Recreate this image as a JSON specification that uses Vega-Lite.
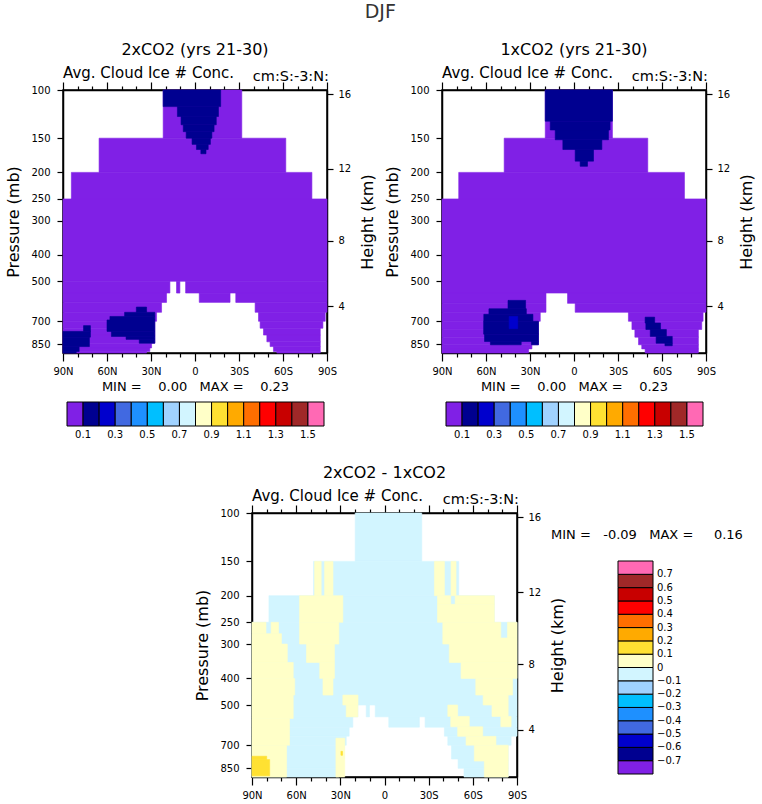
{
  "$schema": "https://vega.github.io/schema/vega-lite/v6.json",
  "autosize": {"type": "pad"},
  "padding": {"left": 5, "top": 3, "right": 4, "bottom": 4},
  "background": "white",
  "config": {
    "font": "DejaVu Sans",
    "view": {"stroke": "black", "strokeWidth": 1.5},
    "axis": {"domainColor": "black", "domainWidth": 1.5, "tickColor": "black", "tickWidth": 1.2, "labelColor": "black", "titleColor": "black", "labelFont": "DejaVu Sans", "titleFont": "DejaVu Sans", "labelFontSize": 10, "titleFontSize": 16, "titleFontWeight": "normal", "grid": false, "labelOverlap": false, "labelFlush": false},
    "legend": {"labelFont": "DejaVu Sans", "labelColor": "black", "labelFontSize": 10, "titleFont": "DejaVu Sans", "titleColor": "black", "titleFontWeight": "normal"},
    "title": {"font": "DejaVu Sans", "fontWeight": "normal", "color": "black"}
  },
  "title": {"text": "DJF", "fontSize": 19, "fontWeight": "normal", "color": "#333333", "anchor": "middle", "frame": "bounds", "offset": 19},
  "resolve": {"scale": {"fill": "independent", "stroke": "independent"}, "legend": {"fill": "independent", "stroke": "independent"}},
  "datasets": {
    "p1": [
      {"lat1": 21.7, "lat2": -31.9, "p1": 100, "p2": 150, "v": 0.05},
      {"lat1": 65.4, "lat2": -61.9, "p1": 150, "p2": 200, "v": 0.05},
      {"lat1": 84.3, "lat2": -79.7, "p1": 200, "p2": 250, "v": 0.05},
      {"lat1": 90, "lat2": -90, "p1": 250, "p2": 500, "v": 0.05},
      {"lat1": 90, "lat2": 17.1, "p1": 500, "p2": 552, "v": 0.05},
      {"lat1": 12.6, "lat2": 10.3, "p1": 500, "p2": 552, "v": 0.05},
      {"lat1": 6.4, "lat2": -90, "p1": 500, "p2": 552, "v": 0.05},
      {"lat1": 90, "lat2": 19.4, "p1": 552, "p2": 597, "v": 0.05},
      {"lat1": -2.9, "lat2": -23.9, "p1": 552, "p2": 597, "v": 0.05},
      {"lat1": -27.8, "lat2": -90, "p1": 552, "p2": 597, "v": 0.05},
      {"lat1": 90, "lat2": 22.8, "p1": 597, "p2": 649, "v": 0.05},
      {"lat1": -41, "lat2": -90, "p1": 597, "p2": 649, "v": 0.05},
      {"lat1": 90, "lat2": 26.2, "p1": 649, "p2": 700, "v": 0.05},
      {"lat1": -43.3, "lat2": -88.8, "p1": 649, "p2": 700, "v": 0.05},
      {"lat1": 90, "lat2": 27.4, "p1": 700, "p2": 742, "v": 0.05},
      {"lat1": -44.4, "lat2": -87.2, "p1": 700, "p2": 742, "v": 0.05},
      {"lat1": 90, "lat2": 27.4, "p1": 742, "p2": 786, "v": 0.05},
      {"lat1": -46.7, "lat2": -85.4, "p1": 742, "p2": 786, "v": 0.05},
      {"lat1": 90, "lat2": 27.4, "p1": 786, "p2": 842, "v": 0.05},
      {"lat1": -49, "lat2": -85.4, "p1": 786, "p2": 832, "v": 0.05},
      {"lat1": -51.2, "lat2": -85.4, "p1": 832, "p2": 866, "v": 0.05},
      {"lat1": 90, "lat2": 29.6, "p1": 842, "p2": 876, "v": 0.05},
      {"lat1": 90, "lat2": 30.8, "p1": 876, "p2": 903, "v": 0.05},
      {"lat1": -53.5, "lat2": -85.4, "p1": 866, "p2": 903, "v": 0.05},
      {"lat1": 90, "lat2": 33, "p1": 903, "p2": 914, "v": 0.05},
      {"lat1": -55.8, "lat2": -85.4, "p1": 903, "p2": 914, "v": 0.05},
      {"lat1": 21.7, "lat2": -17.5, "p1": 100, "p2": 115, "v": 0.15},
      {"lat1": 12, "lat2": -16, "p1": 115, "p2": 125, "v": 0.15},
      {"lat1": 9.5, "lat2": -14.5, "p1": 125, "p2": 134, "v": 0.15},
      {"lat1": 8, "lat2": -13, "p1": 134, "p2": 142, "v": 0.15},
      {"lat1": 6, "lat2": -11.5, "p1": 142, "p2": 150, "v": 0.15},
      {"lat1": 2, "lat2": -10.5, "p1": 150, "p2": 158, "v": 0.15},
      {"lat1": -1, "lat2": -9, "p1": 158, "p2": 165, "v": 0.15},
      {"lat1": -4, "lat2": -7.5, "p1": 165, "p2": 171, "v": 0.15},
      {"lat1": 76, "lat2": 71.3, "p1": 726, "p2": 762, "v": 0.15},
      {"lat1": 90, "lat2": 71.3, "p1": 762, "p2": 800, "v": 0.15},
      {"lat1": 90, "lat2": 72, "p1": 800, "p2": 866, "v": 0.15},
      {"lat1": 90, "lat2": 79, "p1": 866, "p2": 903, "v": 0.15},
      {"lat1": 90, "lat2": 81, "p1": 903, "p2": 914, "v": 0.15},
      {"lat1": 40, "lat2": 33, "p1": 621, "p2": 649, "v": 0.15},
      {"lat1": 48, "lat2": 27.4, "p1": 649, "p2": 672, "v": 0.15},
      {"lat1": 58, "lat2": 27.4, "p1": 672, "p2": 692, "v": 0.15},
      {"lat1": 60, "lat2": 27.4, "p1": 692, "p2": 762, "v": 0.15},
      {"lat1": 57, "lat2": 27.4, "p1": 762, "p2": 795, "v": 0.15},
      {"lat1": 47, "lat2": 27.4, "p1": 795, "p2": 815, "v": 0.15},
      {"lat1": 38, "lat2": 27.4, "p1": 815, "p2": 842, "v": 0.15}
    ],
    "p2": [
      {"lat1": 19.6, "lat2": -26.2, "p1": 100, "p2": 150, "v": 0.05},
      {"lat1": 47.6, "lat2": -50.3, "p1": 150, "p2": 200, "v": 0.05},
      {"lat1": 78.6, "lat2": -75.3, "p1": 200, "p2": 250, "v": 0.05},
      {"lat1": 90, "lat2": -90, "p1": 250, "p2": 552, "v": 0.05},
      {"lat1": 90, "lat2": 19.1, "p1": 552, "p2": 602, "v": 0.05},
      {"lat1": 4.4, "lat2": -90, "p1": 552, "p2": 602, "v": 0.05},
      {"lat1": 90, "lat2": 19.1, "p1": 602, "p2": 649, "v": 0.05},
      {"lat1": -0.8, "lat2": -90, "p1": 602, "p2": 649, "v": 0.05},
      {"lat1": 90, "lat2": 23, "p1": 649, "p2": 700, "v": 0.05},
      {"lat1": -37.1, "lat2": -88, "p1": 649, "p2": 700, "v": 0.05},
      {"lat1": 90, "lat2": 24.2, "p1": 700, "p2": 750, "v": 0.05},
      {"lat1": -39.5, "lat2": -87.1, "p1": 700, "p2": 750, "v": 0.05},
      {"lat1": 90, "lat2": 24.2, "p1": 750, "p2": 800, "v": 0.05},
      {"lat1": -41.5, "lat2": -84.8, "p1": 750, "p2": 800, "v": 0.05},
      {"lat1": 90, "lat2": 24.2, "p1": 800, "p2": 853, "v": 0.05},
      {"lat1": -44, "lat2": -84.8, "p1": 800, "p2": 853, "v": 0.05},
      {"lat1": 90, "lat2": 28.7, "p1": 853, "p2": 883, "v": 0.05},
      {"lat1": -46.2, "lat2": -84.8, "p1": 853, "p2": 883, "v": 0.05},
      {"lat1": 90, "lat2": 30.9, "p1": 883, "p2": 914, "v": 0.05},
      {"lat1": -48.5, "lat2": -84.8, "p1": 883, "p2": 914, "v": 0.05},
      {"lat1": 19.6, "lat2": -26.2, "p1": 100, "p2": 130, "v": 0.15},
      {"lat1": 16.2, "lat2": -24.6, "p1": 130, "p2": 140, "v": 0.15},
      {"lat1": 12.8, "lat2": -23.5, "p1": 140, "p2": 152, "v": 0.15},
      {"lat1": 7.6, "lat2": -19, "p1": 152, "p2": 165, "v": 0.15},
      {"lat1": -0.8, "lat2": -13.3, "p1": 165, "p2": 182, "v": 0.15},
      {"lat1": -4.2, "lat2": -9.2, "p1": 182, "p2": 190, "v": 0.15},
      {"lat1": 45, "lat2": 33, "p1": 587, "p2": 630, "v": 0.15},
      {"lat1": 58, "lat2": 32.5, "p1": 630, "p2": 660, "v": 0.15},
      {"lat1": 61.5, "lat2": 28, "p1": 660, "p2": 700, "v": 0.15},
      {"lat1": 61.6, "lat2": 24.2, "p1": 700, "p2": 780, "v": 0.15},
      {"lat1": 61, "lat2": 24.2, "p1": 780, "p2": 830, "v": 0.15},
      {"lat1": 57, "lat2": 36, "p1": 830, "p2": 853, "v": 0.15},
      {"lat1": 29, "lat2": 24.2, "p1": 830, "p2": 853, "v": 0.15},
      {"lat1": 44.2, "lat2": 38.4, "p1": 672, "p2": 745, "v": 0.25},
      {"lat1": -48.5, "lat2": -55, "p1": 676, "p2": 710, "v": 0.15},
      {"lat1": -49, "lat2": -59, "p1": 710, "p2": 750, "v": 0.15},
      {"lat1": -52, "lat2": -63, "p1": 750, "p2": 795, "v": 0.15},
      {"lat1": -56, "lat2": -67, "p1": 795, "p2": 842, "v": 0.15},
      {"lat1": -62, "lat2": -67, "p1": 842, "p2": 860, "v": 0.15}
    ],
    "p3": [
      {"lat1": 19.9, "lat2": -25.3, "p1": 100, "p2": 150, "v": -0.05},
      {"lat1": 48.2, "lat2": -50.4, "p1": 150, "p2": 200, "v": -0.05},
      {"lat1": 78.5, "lat2": -74.6, "p1": 200, "p2": 250, "v": -0.05},
      {"lat1": 90, "lat2": -90, "p1": 250, "p2": 500, "v": -0.05},
      {"lat1": 90, "lat2": 18.1, "p1": 500, "p2": 552, "v": -0.05},
      {"lat1": 12.4, "lat2": 10.2, "p1": 500, "p2": 552, "v": -0.05},
      {"lat1": 6.3, "lat2": -90, "p1": 500, "p2": 552, "v": -0.05},
      {"lat1": 90, "lat2": 21.5, "p1": 552, "p2": 602, "v": -0.05},
      {"lat1": -2.9, "lat2": -23.7, "p1": 552, "p2": 602, "v": -0.05},
      {"lat1": -27.6, "lat2": -90, "p1": 552, "p2": 602, "v": -0.05},
      {"lat1": 90, "lat2": 24, "p1": 602, "p2": 649, "v": -0.05},
      {"lat1": -40.7, "lat2": -90, "p1": 602, "p2": 649, "v": -0.05},
      {"lat1": 90, "lat2": 26, "p1": 649, "p2": 700, "v": -0.05},
      {"lat1": -43, "lat2": -86, "p1": 649, "p2": 700, "v": -0.05},
      {"lat1": 90, "lat2": 27.4, "p1": 700, "p2": 786, "v": -0.05},
      {"lat1": -45.5, "lat2": -84, "p1": 700, "p2": 786, "v": -0.05},
      {"lat1": 90, "lat2": 28.5, "p1": 786, "p2": 850, "v": -0.05},
      {"lat1": -50, "lat2": -84, "p1": 786, "p2": 850, "v": -0.05},
      {"lat1": 90, "lat2": 31, "p1": 850, "p2": 914, "v": -0.05},
      {"lat1": -54, "lat2": -84, "p1": 850, "p2": 914, "v": -0.05},
      {"lat1": 90, "lat2": 80.5, "p1": 250, "p2": 275, "v": 0.05},
      {"lat1": 77, "lat2": 72, "p1": 250, "p2": 275, "v": 0.05},
      {"lat1": 90, "lat2": 70, "p1": 275, "p2": 300, "v": 0.05},
      {"lat1": 90, "lat2": 66, "p1": 300, "p2": 350, "v": 0.05},
      {"lat1": 90, "lat2": 62, "p1": 350, "p2": 400, "v": 0.05},
      {"lat1": 90, "lat2": 61, "p1": 400, "p2": 460, "v": 0.05},
      {"lat1": 90, "lat2": 62, "p1": 460, "p2": 560, "v": 0.05},
      {"lat1": 90, "lat2": 64.5, "p1": 560, "p2": 700, "v": 0.05},
      {"lat1": 90, "lat2": 66.5, "p1": 700, "p2": 914, "v": 0.05},
      {"lat1": 47.5, "lat2": 43, "p1": 150, "p2": 200, "v": 0.05},
      {"lat1": 40.7, "lat2": 35, "p1": 150, "p2": 200, "v": 0.05},
      {"lat1": 57.7, "lat2": 28.3, "p1": 200, "p2": 250, "v": 0.05},
      {"lat1": 57.7, "lat2": 31, "p1": 250, "p2": 300, "v": 0.05},
      {"lat1": 53, "lat2": 34, "p1": 300, "p2": 350, "v": 0.05},
      {"lat1": 44, "lat2": 34, "p1": 350, "p2": 400, "v": 0.05},
      {"lat1": 41.8, "lat2": 35, "p1": 400, "p2": 460, "v": 0.05},
      {"lat1": 28.3, "lat2": 18, "p1": 460, "p2": 500, "v": 0.05},
      {"lat1": 26, "lat2": 18.1, "p1": 500, "p2": 552, "v": 0.05},
      {"lat1": 33, "lat2": 27, "p1": 660, "p2": 914, "v": 0.05},
      {"lat1": 29.6, "lat2": 28.5, "p1": 737, "p2": 762, "v": 0.15},
      {"lat1": 90, "lat2": 80, "p1": 768, "p2": 790, "v": 0.15},
      {"lat1": 90, "lat2": 78, "p1": 790, "p2": 905, "v": 0.15},
      {"lat1": -33.9, "lat2": -40.7, "p1": 150, "p2": 200, "v": 0.05},
      {"lat1": -45.2, "lat2": -48.6, "p1": 150, "p2": 200, "v": 0.05},
      {"lat1": -36, "lat2": -45, "p1": 200, "p2": 215, "v": 0.05},
      {"lat1": -48, "lat2": -74.6, "p1": 200, "p2": 215, "v": 0.05},
      {"lat1": -36, "lat2": -74.6, "p1": 215, "p2": 250, "v": 0.05},
      {"lat1": -39.6, "lat2": -79, "p1": 250, "p2": 285, "v": 0.05},
      {"lat1": -83.5, "lat2": -90, "p1": 250, "p2": 285, "v": 0.05},
      {"lat1": -39.6, "lat2": -90, "p1": 285, "p2": 300, "v": 0.05},
      {"lat1": -44, "lat2": -90, "p1": 300, "p2": 350, "v": 0.05},
      {"lat1": -52, "lat2": -90, "p1": 350, "p2": 400, "v": 0.05},
      {"lat1": -62, "lat2": -87, "p1": 400, "p2": 460, "v": 0.05},
      {"lat1": -67, "lat2": -84, "p1": 460, "p2": 500, "v": 0.05},
      {"lat1": -73, "lat2": -84, "p1": 500, "p2": 550, "v": 0.05},
      {"lat1": -79, "lat2": -86, "p1": 550, "p2": 600, "v": 0.05},
      {"lat1": -43, "lat2": -49.7, "p1": 500, "p2": 550, "v": 0.05},
      {"lat1": -45, "lat2": -57.6, "p1": 550, "p2": 600, "v": 0.05},
      {"lat1": -49.7, "lat2": -66.7, "p1": 600, "p2": 650, "v": 0.05},
      {"lat1": -55.4, "lat2": -75.7, "p1": 650, "p2": 700, "v": 0.05},
      {"lat1": -61, "lat2": -84, "p1": 700, "p2": 800, "v": 0.05},
      {"lat1": -67.8, "lat2": -84, "p1": 800, "p2": 914, "v": 0.05}
    ],
    "hticks": [
      {"lat": 0, "p": 103.5, "km": 16},
      {"lat": 0, "p": 194, "km": 12},
      {"lat": 0, "p": 356, "km": 8},
      {"lat": 0, "p": 616, "km": 4}
    ]
  },
  "vconcat": [
    {
      "hconcat": [
        {
          "width": 264, "height": 263,
          "title": {"text": "2xCO2 (yrs 21-30)", "fontSize": 16, "frame": "group", "anchor": "middle", "offset": 8},
          "resolve": {"scale": {"x": "independent", "y": "independent"}, "axis": {"x": "independent", "y": "independent"}},
          "layer": [
            {
              "data": {"name": "p1"},
              "mark": {"type": "rect", "strokeWidth": 0.6},
              "encoding": {
                "x": {"field": "lat1", "type": "quantitative", "scale": {"domain": [-90, 90], "reverse": true, "nice": false, "zero": false},
                  "axis": {"orient": "bottom", "values": [-90,-80,-70,-60,-50,-40,-30,-20,-10,0,10,20,30,40,50,60,70,80,90], "labelExpr": "datum.value % 30 !== 0 ? '' : datum.value == 0 ? '0' : datum.value > 0 ? datum.value + 'N' : (-datum.value) + 'S'", "tickSize": {"condition": {"test": "datum.value % 30 === 0", "value": 8}, "value": 4}, "labelPadding": 5, "title": "MIN =\u00a0\u00a0\u00a0\u00a00.00\u00a0\u00a0\u00a0MAX =\u00a0\u00a0\u00a0\u00a00.23", "titleFontSize": 13, "titlePadding": 4}},
                "x2": {"field": "lat2"},
                "y": {"field": "p1", "type": "quantitative", "scale": {"type": "log", "domain": [100, 914], "reverse": true, "nice": false},
                  "axis": {"orient": "left", "values": [100,150,200,250,300,400,500,700,850], "format": "d", "tickSize": 6, "labelPadding": 7, "title": "Pressure (mb)", "titlePadding": 9}},
                "y2": {"field": "p2"},
                "fill": {"field": "v", "type": "quantitative",
                  "scale": {"type": "threshold", "domain": [0.1,0.2,0.3,0.4,0.5,0.6,0.7,0.8,0.9,1.0,1.1,1.2,1.3,1.4,1.5], "range": ["#8020E6","#000090","#0000CD","#4169E1","#1E90FF","#00BFFF","#A0D2FF","#D2F5FF","#FFFFC8","#FFE132","#FFAA00","#FF6E00","#FF0000","#C80000","#A02828","#FF69B4"]},
                  "legend": {"type": "gradient", "orient": "none", "legendX": 4, "legendY": 312, "direction": "horizontal", "gradientLength": 257, "gradientThickness": 24, "title": null, "labelExpr": "round(datum.value*10) % 2 == 1 ? format(datum.value, '.1f') : ''", "labelOffset": 4, "labelOverlap": false, "encode": {"gradient": {"update": {"stroke": {"value": "black"}, "strokeWidth": {"value": 1}}}}}},
                "stroke": {"field": "v", "type": "quantitative",
                  "scale": {"type": "threshold", "domain": [0.1,0.2,0.3,0.4,0.5,0.6,0.7,0.8,0.9,1.0,1.1,1.2,1.3,1.4,1.5], "range": ["#8020E6","#000090","#0000CD","#4169E1","#1E90FF","#00BFFF","#A0D2FF","#D2F5FF","#FFFFC8","#FFE132","#FFAA00","#FF6E00","#FF0000","#C80000","#A02828","#FF69B4"]},
                  "legend": null}
              }
            },
            {
              "data": {"name": "hticks"},
              "mark": {"type": "point", "opacity": 0},
              "encoding": {
                "x": {"field": "lat", "type": "quantitative", "scale": {"domain": [-90, 90], "reverse": true, "nice": false, "zero": false},
                  "axis": {"orient": "top", "values": [-90,-80,-70,-60,-50,-40,-30,-20,-10,0,10,20,30,40,50,60,70,80,90], "labels": false, "tickSize": {"condition": {"test": "datum.value % 30 === 0", "value": 8}, "value": 4}, "title": null}},
                "y": {"field": "p", "type": "quantitative", "scale": {"type": "log", "domain": [100, 914], "reverse": true, "nice": false},
                  "axis": {"orient": "right", "values": [103.5, 194, 356, 616], "labelExpr": "datum.value < 150 ? '16' : datum.value < 250 ? '12' : datum.value < 450 ? '8' : '4'", "tickSize": 6, "labelPadding": 5, "title": "Height (km)", "titleAngle": 270, "titleBaseline": "top", "titlePadding": 9}}
              }
            },
            {
              "data": {"values": [{"lat": 90, "p": 100, "t": "Avg. Cloud Ice # Conc."}]},
              "mark": {"type": "text", "align": "left", "baseline": "alphabetic", "dy": -12, "fontSize": 15, "font": "DejaVu Sans"},
              "encoding": {
                "x": {"field": "lat", "type": "quantitative", "scale": {"domain": [-90, 90], "reverse": true, "nice": false, "zero": false}, "axis": null},
                "y": {"field": "p", "type": "quantitative", "scale": {"type": "log", "domain": [100, 914], "reverse": true, "nice": false}, "axis": null},
                "text": {"field": "t"}
              }
            },
            {
              "data": {"values": [{"lat": -90, "p": 100, "t": "cm:S:-3:N:"}]},
              "mark": {"type": "text", "align": "right", "baseline": "alphabetic", "dy": -9, "dx": 2, "fontSize": 14.5, "font": "DejaVu Sans"},
              "encoding": {
                "x": {"field": "lat", "type": "quantitative", "scale": {"domain": [-90, 90], "reverse": true, "nice": false, "zero": false}, "axis": null},
                "y": {"field": "p", "type": "quantitative", "scale": {"type": "log", "domain": [100, 914], "reverse": true, "nice": false}, "axis": null},
                "text": {"field": "t"}
              }
            }
          ]
        },
        {
          "width": 264, "height": 263,
          "title": {"text": "1xCO2 (yrs 21-30)", "fontSize": 16, "frame": "group", "anchor": "middle", "offset": 8},
          "resolve": {"scale": {"x": "independent", "y": "independent"}, "axis": {"x": "independent", "y": "independent"}},
          "layer": [
            {
              "data": {"name": "p2"},
              "mark": {"type": "rect", "strokeWidth": 0.6},
              "encoding": {
                "x": {"field": "lat1", "type": "quantitative", "scale": {"domain": [-90, 90], "reverse": true, "nice": false, "zero": false},
                  "axis": {"orient": "bottom", "values": [-90,-80,-70,-60,-50,-40,-30,-20,-10,0,10,20,30,40,50,60,70,80,90], "labelExpr": "datum.value % 30 !== 0 ? '' : datum.value == 0 ? '0' : datum.value > 0 ? datum.value + 'N' : (-datum.value) + 'S'", "tickSize": {"condition": {"test": "datum.value % 30 === 0", "value": 8}, "value": 4}, "labelPadding": 5, "title": "MIN =\u00a0\u00a0\u00a0\u00a00.00\u00a0\u00a0\u00a0MAX =\u00a0\u00a0\u00a0\u00a00.23", "titleFontSize": 13, "titlePadding": 4}},
                "x2": {"field": "lat2"},
                "y": {"field": "p1", "type": "quantitative", "scale": {"type": "log", "domain": [100, 914], "reverse": true, "nice": false},
                  "axis": {"orient": "left", "values": [100,150,200,250,300,400,500,700,850], "format": "d", "tickSize": 6, "labelPadding": 7, "title": "Pressure (mb)", "titlePadding": 9}},
                "y2": {"field": "p2"},
                "fill": {"field": "v", "type": "quantitative",
                  "scale": {"type": "threshold", "domain": [0.1,0.2,0.3,0.4,0.5,0.6,0.7,0.8,0.9,1.0,1.1,1.2,1.3,1.4,1.5], "range": ["#8020E6","#000090","#0000CD","#4169E1","#1E90FF","#00BFFF","#A0D2FF","#D2F5FF","#FFFFC8","#FFE132","#FFAA00","#FF6E00","#FF0000","#C80000","#A02828","#FF69B4"]},
                  "legend": {"type": "gradient", "orient": "none", "legendX": 4, "legendY": 312, "direction": "horizontal", "gradientLength": 257, "gradientThickness": 24, "title": null, "labelExpr": "round(datum.value*10) % 2 == 1 ? format(datum.value, '.1f') : ''", "labelOffset": 4, "labelOverlap": false, "encode": {"gradient": {"update": {"stroke": {"value": "black"}, "strokeWidth": {"value": 1}}}}}},
                "stroke": {"field": "v", "type": "quantitative",
                  "scale": {"type": "threshold", "domain": [0.1,0.2,0.3,0.4,0.5,0.6,0.7,0.8,0.9,1.0,1.1,1.2,1.3,1.4,1.5], "range": ["#8020E6","#000090","#0000CD","#4169E1","#1E90FF","#00BFFF","#A0D2FF","#D2F5FF","#FFFFC8","#FFE132","#FFAA00","#FF6E00","#FF0000","#C80000","#A02828","#FF69B4"]},
                  "legend": null}
              }
            },
            {
              "data": {"name": "hticks"},
              "mark": {"type": "point", "opacity": 0},
              "encoding": {
                "x": {"field": "lat", "type": "quantitative", "scale": {"domain": [-90, 90], "reverse": true, "nice": false, "zero": false},
                  "axis": {"orient": "top", "values": [-90,-80,-70,-60,-50,-40,-30,-20,-10,0,10,20,30,40,50,60,70,80,90], "labels": false, "tickSize": {"condition": {"test": "datum.value % 30 === 0", "value": 8}, "value": 4}, "title": null}},
                "y": {"field": "p", "type": "quantitative", "scale": {"type": "log", "domain": [100, 914], "reverse": true, "nice": false},
                  "axis": {"orient": "right", "values": [103.5, 194, 356, 616], "labelExpr": "datum.value < 150 ? '16' : datum.value < 250 ? '12' : datum.value < 450 ? '8' : '4'", "tickSize": 6, "labelPadding": 5, "title": "Height (km)", "titleAngle": 270, "titleBaseline": "top", "titlePadding": 9}}
              }
            },
            {
              "data": {"values": [{"lat": 90, "p": 100, "t": "Avg. Cloud Ice # Conc."}]},
              "mark": {"type": "text", "align": "left", "baseline": "alphabetic", "dy": -12, "fontSize": 15, "font": "DejaVu Sans"},
              "encoding": {
                "x": {"field": "lat", "type": "quantitative", "scale": {"domain": [-90, 90], "reverse": true, "nice": false, "zero": false}, "axis": null},
                "y": {"field": "p", "type": "quantitative", "scale": {"type": "log", "domain": [100, 914], "reverse": true, "nice": false}, "axis": null},
                "text": {"field": "t"}
              }
            },
            {
              "data": {"values": [{"lat": -90, "p": 100, "t": "cm:S:-3:N:"}]},
              "mark": {"type": "text", "align": "right", "baseline": "alphabetic", "dy": -9, "dx": 2, "fontSize": 14.5, "font": "DejaVu Sans"},
              "encoding": {
                "x": {"field": "lat", "type": "quantitative", "scale": {"domain": [-90, 90], "reverse": true, "nice": false, "zero": false}, "axis": null},
                "y": {"field": "p", "type": "quantitative", "scale": {"type": "log", "domain": [100, 914], "reverse": true, "nice": false}, "axis": null},
                "text": {"field": "t"}
              }
            }
          ]
        }
      ],
      "spacing": 115,
      "bounds": "flush",
      "resolve": {"scale": {"fill": "independent", "stroke": "independent"}, "legend": {"fill": "independent", "stroke": "independent"}}
    },
    {
      "hconcat": [
        {
          "width": 189, "height": 20,
          "view": {"stroke": null},
          "data": {"values": [{"k": 0}]},
          "mark": {"type": "point", "opacity": 0},
          "encoding": {}
        },
        {
          "width": 265, "height": 264,
          "title": {"text": "2xCO2 - 1xCO2", "fontSize": 16, "frame": "group", "anchor": "middle", "offset": 8},
          "resolve": {"scale": {"x": "independent", "y": "independent"}, "axis": {"x": "independent", "y": "independent"}},
          "layer": [
            {
              "data": {"name": "p3"},
              "mark": {"type": "rect", "strokeWidth": 0.6},
              "encoding": {
                "x": {"field": "lat1", "type": "quantitative", "scale": {"domain": [-90, 90], "reverse": true, "nice": false, "zero": false},
                  "axis": {"orient": "bottom", "values": [-90,-80,-70,-60,-50,-40,-30,-20,-10,0,10,20,30,40,50,60,70,80,90], "labelExpr": "datum.value % 30 !== 0 ? '' : datum.value == 0 ? '0' : datum.value > 0 ? datum.value + 'N' : (-datum.value) + 'S'", "tickSize": {"condition": {"test": "datum.value % 30 === 0", "value": 8}, "value": 4}, "labelPadding": 5, "title": null}},
                "x2": {"field": "lat2"},
                "y": {"field": "p1", "type": "quantitative", "scale": {"type": "log", "domain": [100, 914], "reverse": true, "nice": false},
                  "axis": {"orient": "left", "values": [100,150,200,250,300,400,500,700,850], "format": "d", "tickSize": 6, "labelPadding": 7, "title": "Pressure (mb)", "titlePadding": 9}},
                "y2": {"field": "p2"},
                "fill": {"field": "v", "type": "quantitative",
                  "scale": {"type": "threshold", "domain": [-0.7,-0.6,-0.5,-0.4,-0.3,-0.2,-0.1,0,0.1,0.2,0.3,0.4,0.5,0.6,0.7], "range": ["#8020E6","#000090","#0000CD","#4169E1","#1E90FF","#00BFFF","#A0D2FF","#D2F5FF","#FFFFC8","#FFE132","#FFAA00","#FF6E00","#FF0000","#C80000","#A02828","#FF69B4"]},
                  "legend": {"type": "gradient", "orient": "none", "legendX": 299, "legendY": 16, "direction": "vertical", "gradientLength": 213, "gradientThickness": 35, "title": "MIN =\u00a0\u00a0\u00a0-0.09\u00a0\u00a0\u00a0MAX =\u00a0\u00a0\u00a0\u00a0\u00a00.16", "titleFontSize": 13, "titlePadding": 19, "titleLimit": 400, "labelExpr": "!isFinite(datum.value) ? '' : datum.value == 0 ? '0' : format(datum.value, '.1f')", "labelOffset": 4, "labelOverlap": false, "encode": {"gradient": {"update": {"stroke": {"value": "black"}, "strokeWidth": {"value": 1}}}, "title": {"update": {"dx": {"value": -67}}}}}},
                "stroke": {"field": "v", "type": "quantitative",
                  "scale": {"type": "threshold", "domain": [-0.7,-0.6,-0.5,-0.4,-0.3,-0.2,-0.1,0,0.1,0.2,0.3,0.4,0.5,0.6,0.7], "range": ["#8020E6","#000090","#0000CD","#4169E1","#1E90FF","#00BFFF","#A0D2FF","#D2F5FF","#FFFFC8","#FFE132","#FFAA00","#FF6E00","#FF0000","#C80000","#A02828","#FF69B4"]},
                  "legend": null}
              }
            },
            {
              "data": {"name": "hticks"},
              "mark": {"type": "point", "opacity": 0},
              "encoding": {
                "x": {"field": "lat", "type": "quantitative", "scale": {"domain": [-90, 90], "reverse": true, "nice": false, "zero": false},
                  "axis": {"orient": "top", "values": [-90,-80,-70,-60,-50,-40,-30,-20,-10,0,10,20,30,40,50,60,70,80,90], "labels": false, "tickSize": {"condition": {"test": "datum.value % 30 === 0", "value": 8}, "value": 4}, "title": null}},
                "y": {"field": "p", "type": "quantitative", "scale": {"type": "log", "domain": [100, 914], "reverse": true, "nice": false},
                  "axis": {"orient": "right", "values": [103.5, 194, 356, 616], "labelExpr": "datum.value < 150 ? '16' : datum.value < 250 ? '12' : datum.value < 450 ? '8' : '4'", "tickSize": 6, "labelPadding": 5, "title": "Height (km)", "titleAngle": 270, "titleBaseline": "top", "titlePadding": 9}}
              }
            },
            {
              "data": {"values": [{"lat": 90, "p": 100, "t": "Avg. Cloud Ice # Conc."}]},
              "mark": {"type": "text", "align": "left", "baseline": "alphabetic", "dy": -12, "fontSize": 15, "font": "DejaVu Sans"},
              "encoding": {
                "x": {"field": "lat", "type": "quantitative", "scale": {"domain": [-90, 90], "reverse": true, "nice": false, "zero": false}, "axis": null},
                "y": {"field": "p", "type": "quantitative", "scale": {"type": "log", "domain": [100, 914], "reverse": true, "nice": false}, "axis": null},
                "text": {"field": "t"}
              }
            },
            {
              "data": {"values": [{"lat": -90, "p": 100, "t": "cm:S:-3:N:"}]},
              "mark": {"type": "text", "align": "right", "baseline": "alphabetic", "dy": -9, "dx": 2, "fontSize": 14.5, "font": "DejaVu Sans"},
              "encoding": {
                "x": {"field": "lat", "type": "quantitative", "scale": {"domain": [-90, 90], "reverse": true, "nice": false, "zero": false}, "axis": null},
                "y": {"field": "p", "type": "quantitative", "scale": {"type": "log", "domain": [100, 914], "reverse": true, "nice": false}, "axis": null},
                "text": {"field": "t"}
              }
            }
          ]
        }
      ],
      "spacing": 0,
      "bounds": "flush",
      "resolve": {"scale": {"fill": "independent", "stroke": "independent"}, "legend": {"fill": "independent", "stroke": "independent"}}
    }
  ],
  "spacing": 23
}
